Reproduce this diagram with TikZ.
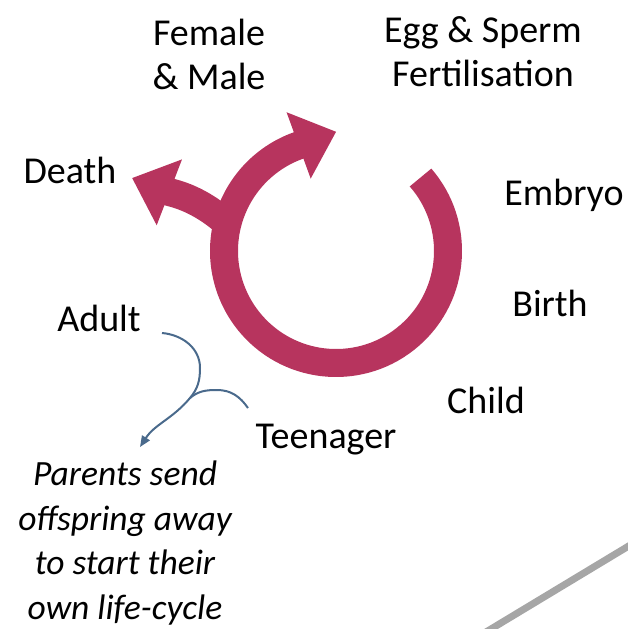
\documentclass[tikz,border=0pt]{standalone}
\usepackage{fontspec}
\setmainfont{Carlito}
\usetikzlibrary{arrows.meta,calc}
\definecolor{cyclered}{RGB}{183,52,94}
\definecolor{noteblue}{RGB}{74,106,140}
\begin{document}
\begin{tikzpicture}[x=1pt,y=1pt,
  stage/.style={font=\fontsize{38}{44}\selectfont,inner sep=0pt,align=center},
  ring/.style={line width=28pt,cyclered,-{Triangle[length=40pt,width=68pt]}},
  note/.style={line width=2pt,noteblue}]
\useasboundingbox (0,0) rectangle (627,-629);
\coordinate (c) at (336,-251);
% the cycle and the branch to death
\draw[ring] ($(c)+(41:112)$) arc[start angle=41,end angle=-250,radius=112] -- ++(20:41);
\draw[ring] ($(c)+(166:112)$) to[out=138,in=-21] (132,-178);
\node[stage] (female) at (209,-54) {Female\\\& Male};
\node[stage] (egg) at (483,-52) {Egg \& Sperm\\Fertilisation};
\node[stage] (death) at (70,-170) {Death};
\node[stage] (embryo) at (564,-195) {Embryo};
\node[stage] (birth) at (550,-303) {Birth};
\node[stage] (adult) at (99,-318) {Adult};
\node[stage] (child) at (486,-400) {Child};
\node[stage] (teen) at (326,-440) {Teenager};
\node[stage,font=\fontsize{35.5}{44.5}\selectfont\itshape] (parents) at (125,-543) {Parents send\\offspring away\\to start their\\own life-cycle};
% leaving home
\coordinate (a1) at (162,-333);
\coordinate (j) at (190,-398);
\coordinate (t1) at (248,-408);
\coordinate (tip) at (140,-447);
\draw[note,-{Triangle[length=11pt,width=9pt]}] (a1) to[out=-5,in=90] (200,-368) to[out=-90,in=50] (j) to[out=-130,in=57] (tip);
\draw[note] (t1) to[out=125,in=0] (217,-390) to[out=180,in=40] (j);
\draw[line width=7pt,gray!70] (486,-632) -- (632,-544);
\end{tikzpicture}
\end{document}
